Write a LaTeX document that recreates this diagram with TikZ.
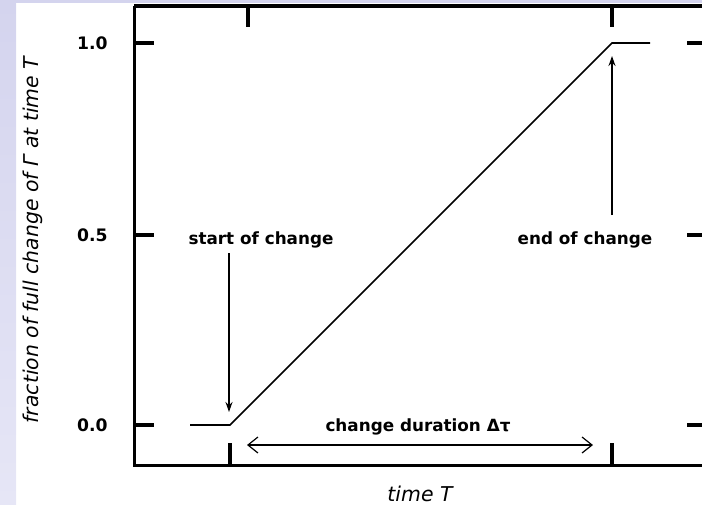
\documentclass[tikz,border=0pt]{standalone}
\usepackage{fontspec}
\setmainfont{DejaVu Sans}
\usetikzlibrary{arrows.meta,positioning}
\definecolor{lavtop}{HTML}{D4D4EE}
\definecolor{lavbot}{HTML}{E6E6F6}

\begin{document}
\begin{tikzpicture}[x=0.5pt,y=-0.5pt,
    axis/.style={line width=1.5pt},
    tickmark/.style={line width=1.6pt},
    curve/.style={line width=0.8pt},
    pointer/.style={line width=0.9pt,-{Stealth[length=5pt,width=3.5pt]}},
    span/.style={line width=0.6pt,{Straight Barb[length=5pt,width=8pt]}-{Straight Barb[length=5pt,width=8pt]}},
    ticklabel/.style={font=\bfseries\fontsize{8.6}{10}\selectfont,anchor=east,inner sep=0pt},
    note/.style={font=\bfseries\fontsize{8.4}{10}\selectfont,inner sep=0pt},
    axislabel/.style={font=\itshape\fontsize{10.2}{12}\selectfont,inner sep=0pt}]
    \clip (0,0) rectangle (702,504);
    \fill[top color=lavtop,bottom color=lavbot] (0,0) rectangle (16,504);
    \fill[lavtop] (0,0) rectangle (702,2.5);
    \coordinate (tl) at (134,6);
    \coordinate (bl) at (134,465);
    \coordinate (br) at (720,465);
    \coordinate (tr) at (720,6);
    \draw[line width=2pt] (tl) -- (tr);
    \draw[axis] (tl) -- (bl) -- (br);
    \foreach \y/\v in {43/1.0,235/0.5,425/0.0}{
        \draw[tickmark] (134,\y) -- (154,\y);
        \draw[tickmark] (687,\y) -- (710,\y);
        \node[ticklabel] (val\v) at (108,\y) {\v};
    }
    \foreach \x in {230,612}
        \draw[tickmark] (\x,443) -- (\x,465);
    \foreach \x in {248,612}
        \draw[tickmark] (\x,6) -- (\x,27);
    \coordinate (flat0) at (190,425);
    \coordinate (begin) at (230,425);
    \coordinate (finish) at (612,43);
    \coordinate (flat1) at (650,43);
    \draw[curve] (flat0) -- (begin) -- (finish) -- (flat1);
    \node[note] (start) at (261,240) {start of change};
    \node[note] (end) at (585,240) {end of change};
    \coordinate (startfoot) at (229,253);
    \coordinate (starttip) at (229,412);
    \coordinate (endfoot) at (612,215);
    \coordinate (endtip) at (612,56);
    \draw[pointer] (startfoot) -- (starttip);
    \draw[pointer] (endfoot) -- (endtip);
    \node[note] (dur) at (418,427) {change duration Δτ};
    \coordinate (durL) at (247,445);
    \coordinate (durR) at (593,445);
    \draw[span] (durL) -- (durR);
    \node[axislabel] (xlab) at (420,494) {time T};
    \node[axislabel,rotate=90] (ylab) at (33,240) {fraction of full change of Γ at time T};
\end{tikzpicture}
\end{document}
